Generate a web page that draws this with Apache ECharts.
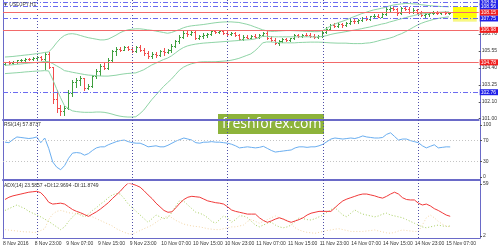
<!DOCTYPE html>
<html><head><meta charset="utf-8">
<script src="https://cdn.jsdelivr.net/npm/echarts@6/dist/echarts.min.js"></script>
<style>html,body{margin:0;padding:0;background:#fff}#c{width:500px;height:250px}</style>
</head><body><div id="c"></div>
<script>
// ---------- data ----------
const timeLabels = ["8 Nov 2016","8 Nov 23:00","9 Nov 07:00","9 Nov 15:00","9 Nov 23:00","10 Nov 07:00","10 Nov 15:00","10 Nov 23:00","11 Nov 07:00","11 Nov 15:00","11 Nov 23:00","14 Nov 07:00","14 Nov 15:00","14 Nov 23:00","15 Nov 07:00"];
const opens = [104.70,104.78,104.72,104.80,104.92,104.96,105.00,104.98,105.08,105.12,105.00,105.35,104.45,102.30,101.70,101.50,101.70,102.70,103.45,103.60,103.70,103.05,103.15,103.85,104.20,104.55,104.40,104.95,105.55,105.70,105.65,105.80,105.70,105.55,105.85,105.60,105.40,105.20,105.35,105.25,105.55,105.45,105.60,105.90,106.20,106.50,106.80,106.70,106.85,106.45,106.55,106.62,106.72,106.88,106.85,106.92,106.78,106.70,106.75,106.62,106.38,106.52,106.45,106.55,106.50,106.65,106.78,106.45,106.30,106.10,106.25,106.35,106.28,106.40,106.62,106.58,106.65,106.60,106.55,106.50,106.58,106.85,107.05,107.30,107.25,107.35,107.30,107.42,107.60,107.55,107.65,107.80,107.70,107.90,107.95,107.88,108.02,108.40,108.45,108.38,108.10,108.48,108.40,108.20,108.35,108.15,108.00,108.08,108.12,108.15,108.10,108.18,108.12];
const highs = [104.82,104.86,104.85,104.95,105.02,105.05,105.10,105.12,105.18,105.20,105.45,105.48,104.50,102.90,101.90,101.80,102.90,103.60,103.75,103.85,103.75,103.30,103.95,104.30,104.65,104.75,105.05,105.65,105.80,105.85,105.88,105.90,105.80,105.90,105.95,105.75,105.55,105.45,105.50,105.62,105.75,105.70,106.00,106.30,106.60,106.90,106.95,106.92,106.95,106.65,106.75,106.80,106.95,106.98,106.98,106.98,106.90,106.85,106.82,106.70,106.60,106.60,106.62,106.68,106.72,106.85,106.90,106.55,106.40,106.30,106.40,106.45,106.45,106.70,106.72,106.70,106.75,106.80,106.70,106.62,106.95,107.15,107.40,107.45,107.42,107.45,107.50,107.70,107.75,107.72,107.88,107.92,107.95,108.08,108.05,108.10,108.50,108.52,108.55,108.46,108.55,108.62,108.50,108.45,108.42,108.28,108.18,108.20,108.25,108.28,108.22,108.25,108.20];
const lows = [104.62,104.68,104.66,104.76,104.85,104.90,104.94,104.95,105.02,104.95,104.30,104.40,102.05,101.42,101.22,101.19,101.60,102.50,103.10,103.25,102.91,103.00,103.10,103.75,103.95,104.35,104.35,104.85,105.30,105.55,105.60,105.62,105.50,105.50,105.55,105.30,105.10,105.10,105.15,105.18,105.30,105.40,105.50,105.85,106.10,106.40,106.55,106.60,106.35,106.35,106.45,106.50,106.65,106.78,106.78,106.72,106.65,106.60,106.55,106.30,106.30,106.40,106.38,106.45,106.42,106.55,106.35,106.20,106.00,105.98,106.15,106.20,106.22,106.35,106.50,106.50,106.55,106.50,106.45,106.42,106.52,106.80,107.00,107.15,107.18,107.20,107.22,107.35,107.45,107.45,107.58,107.62,107.65,107.80,107.82,107.85,107.98,108.25,108.30,108.00,108.05,108.30,108.15,108.12,108.10,107.90,107.85,107.95,108.02,108.05,108.02,108.08,108.08];
const closes = [104.78,104.72,104.80,104.92,104.96,105.00,104.98,105.08,105.12,105.00,105.35,104.50,102.30,101.70,101.50,101.70,102.70,103.45,103.60,103.70,103.05,103.15,103.85,104.20,104.55,104.40,104.95,105.55,105.70,105.65,105.80,105.70,105.55,105.85,105.60,105.40,105.20,105.35,105.25,105.55,105.45,105.60,105.90,106.20,106.50,106.80,106.70,106.85,106.45,106.55,106.62,106.72,106.88,106.85,106.92,106.78,106.70,106.75,106.62,106.38,106.52,106.45,106.55,106.50,106.65,106.78,106.45,106.30,106.10,106.25,106.35,106.28,106.40,106.62,106.58,106.65,106.60,106.55,106.50,106.58,106.85,107.05,107.30,107.25,107.35,107.30,107.42,107.60,107.55,107.65,107.80,107.70,107.90,107.95,107.88,108.02,108.40,108.45,108.38,108.10,108.48,108.40,108.20,108.35,108.15,108.00,108.08,108.12,108.15,108.10,108.18,108.12,108.15];
const bbUpper = [105.14,105.16,105.18,105.21,105.24,105.27,105.30,105.33,105.37,105.40,105.45,105.48,105.75,106.10,106.40,106.60,106.70,106.72,106.68,106.60,106.52,106.45,106.40,106.35,106.30,106.30,106.35,106.48,106.62,106.78,106.90,106.98,107.02,107.05,107.05,107.02,106.98,106.95,106.90,106.85,106.80,106.75,106.80,106.90,107.00,107.12,107.20,107.25,107.28,107.31,107.34,107.38,107.42,107.46,107.49,107.51,107.52,107.52,107.50,107.48,107.42,107.36,107.28,107.18,107.08,106.98,106.92,106.88,106.88,106.90,106.92,106.93,106.93,106.92,106.91,106.90,106.88,106.87,106.86,106.86,106.92,107.05,107.22,107.35,107.46,107.55,107.64,107.76,107.87,107.97,108.08,108.16,108.25,108.33,108.38,108.44,108.50,108.60,108.66,108.70,108.74,108.76,108.76,108.74,108.72,108.68,108.65,108.62,108.60,108.58,108.56,108.55,108.54];
const bbMiddle = [104.58,104.60,104.62,104.65,104.67,104.70,104.73,104.75,104.78,104.80,104.84,104.84,104.70,104.55,104.40,104.22,104.17,104.11,104.06,104.01,103.96,103.92,103.90,103.88,103.86,103.85,103.85,103.88,103.91,103.96,104.00,104.03,104.05,104.07,104.17,104.28,104.44,104.60,104.72,104.85,104.97,105.07,105.22,105.42,105.62,105.78,105.89,105.96,106.01,106.05,106.08,106.10,106.12,106.14,106.16,106.18,106.20,106.22,106.24,106.26,106.29,106.30,106.32,106.36,106.44,106.54,106.54,106.52,106.51,106.51,106.51,106.51,106.51,106.51,106.51,106.51,106.51,106.51,106.50,106.50,106.53,106.58,106.66,106.72,106.77,106.81,106.86,106.91,106.96,107.01,107.06,107.12,107.17,107.24,107.30,107.37,107.42,107.51,107.58,107.66,107.73,107.80,107.88,107.94,108.01,108.05,108.08,108.11,108.14,108.16,108.18,108.19,108.20];
const bbLower = [104.02,104.04,104.06,104.08,104.10,104.13,104.15,104.17,104.19,104.20,104.22,104.20,103.65,103.00,102.40,101.85,101.65,101.50,101.45,101.42,101.40,101.40,101.40,101.42,101.42,101.40,101.35,101.28,101.20,101.14,101.10,101.08,101.08,101.10,101.30,101.55,101.90,102.25,102.55,102.85,103.15,103.40,103.65,103.95,104.25,104.45,104.58,104.68,104.75,104.80,104.82,104.82,104.82,104.82,104.84,104.86,104.88,104.92,104.98,105.05,105.15,105.25,105.35,105.55,105.80,106.10,106.16,106.16,106.14,106.12,106.10,106.10,106.10,106.10,106.12,106.13,106.14,106.15,106.15,106.15,106.14,106.12,106.10,106.09,106.08,106.08,106.08,106.06,106.05,106.05,106.05,106.08,106.10,106.15,106.22,106.30,106.35,106.42,106.50,106.62,106.72,106.85,107.00,107.15,107.30,107.42,107.52,107.60,107.68,107.74,107.79,107.83,107.86];
const rsi = [67,66,72,77,76,75,74,75,77,66,75,55,29,19,14,22,36,46,47,46,42,45,51,56,58,58,62,65,68,70,71,68,66,65,65,62,58,59,60,58,58,61,65,69,72,75,73,71,66,65,67,67,68,67,67,66,65,63,60,56,57,58,57,56,57,59,55,51,48,49,50,51,52,56,58,58,57,58,58,60,63,68,73,75,74,73,74,75,74,76,79,77,76,75,75,76,82,85,78,71,73,73,70,68,66,60,56,59,62,56,57,58,57.87];
const adx = [42,44.5,46,47,48,49,50,50.5,51,49.5,45,39,37,37.5,38,37,34,31,29,27.5,25.5,23.5,26,28.5,31.5,35,38.5,43,47,51,56,60,59,57.5,55.5,51.5,47,43,38,34,30,28,28.5,33,38,42,44.5,45.5,45,44.5,42.5,40.5,39.5,38.5,38,37,34,30.5,29,28,27,26,26,26,22,19,17,18.5,20.5,22,20.5,18.5,17,18.5,20,22,25,27,28,29,29,29,29,33,37,40.5,42.5,44,45.5,47,48,48,47,46,44.5,43.5,45.5,48,50,48,44,42,41.5,41.5,38,36,37,35,32,30,27.5,25,23.59];
const plusDI = [30,32,34,36,34,32,29,27,25,23,20.5,18,15,12,9,12,18,23,27,25,23,26,30,33,37,40,44,47,48.5,48,43,37,33,29,25,21,17,21,25,23,21,22,28,35,41,40,36,32,28,27,25,22,18,16,20,24,22,17,20,24,24,22,18,14,12,14,16,17,14,12,11,12,14,18,22,21,20,19.5,21,23,25,28,31,33,29,25,23,27,30.5,28,26,25,24,23,24,26,27,25,24,23,22,20,18,16,14,12,11,12,13,14,13,12.5,12.97];
const minusDI = [9,8.5,8,7.5,7,6.5,6.5,6,6,8,10,20,26,29,30,29,27.5,27,26.5,26,25.5,24.5,23,21,19,17,15,13,10,8,6,4.5,4,6,8,10,12,14,17,20,22,24,22,19,17,15,14,13,12.5,12,11,10,9.5,9,9,10,11,12,12,13,14,18,20,18,16,18,20,22,24,22,21,19,15,11,8.6,7,6,5.5,5,6,7,8,8.6,9.5,10,9,8,7,7,7,7,7.5,8,8.6,7.5,6.5,5.5,5,6,7.5,8.6,8,7.5,7,7,14,22,25,22,18,15,13,11.87];
const blueLevels = [108.84, 108.56, 107.75, 102.76];
const redLevels = [108.15, 106.98, 104.78];
const yellowZone = [108.53, 107.52];
const priceTicks = [101.00, 102.10, 103.25, 104.40, 105.55, 106.70];
const rsiTicks = [0, 30, 70, 100];
const rsiLevels = [70, 30];
const adxTicks = [2, 59];
const separatorIdx = [8, 32, 56, 80, 104];
const SLOTS = 120;

// ---------- styles ----------
const FONT = 'Liberation Sans';
const FRAME = '#6a6ac8';
const BULL = '#3f9f3f', BEAR = '#f24c4c', DOJI = '#333333';
const BB = '#8fd4a6';
const cats = Array.from({length: SLOTS}, (_, i) => String(i));
const bars = opens.map((o, i) => [i, o, highs[i], lows[i], closes[i]]);

function renderBar(params, api) {
  const i = api.value(0), o = api.value(1), h = api.value(2), l = api.value(3), c = api.value(4);
  const pH = api.coord([i, h]), pL = api.coord([i, l]), pO = api.coord([i, o]), pC = api.coord([i, c]);
  const x0 = Math.round(pH[0]);
  const col = c > o ? BULL : (c < o ? BEAR : DOJI);
  const st = {stroke: col, lineWidth: 1};
  const yo = Math.round(pO[1]) + 0.5, yc = Math.round(pC[1]) + 0.5;
  return {type: 'group', children: [
    {type: 'line', shape: {x1: x0 + 0.5, y1: Math.round(pH[1]), x2: x0 + 0.5, y2: Math.round(pL[1]) + 1}, style: st},
    {type: 'line', shape: {x1: x0 - 1, y1: yo, x2: x0, y2: yo}, style: st},
    {type: 'line', shape: {x1: x0 + 1, y1: yc, x2: x0 + 2, y2: yc}, style: st}
  ]};
}

function hiddenX(gi, extra) {
  return Object.assign({type: 'category', gridIndex: gi, data: cats, boundaryGap: true,
    axisLine: {show: false}, axisTick: {show: false}, axisLabel: {show: false}, splitLine: {show: false}}, extra || {});
}
function rightY(gi, min, max, ticks, fmt) {
  return {type: 'value', gridIndex: gi, position: 'right', min: min, max: max, scale: true,
    axisLine: {show: false}, splitLine: {show: false},
    axisTick: {show: true, inside: false, length: 2, customValues: ticks, lineStyle: {color: '#555'}},
    axisLabel: {show: true, customValues: ticks, formatter: fmt, fontSize: 5, fontFamily: FONT, color: '#333', margin: 3}};
}

const levelLines = [
  ...blueLevels.map(v => ({yAxis: v, lineStyle: {color: '#6b6bf0', type: [5, 2, 1, 2], width: 1}, label: {backgroundColor: '#2020e8'}})),
  ...redLevels.map(v => ({yAxis: v, lineStyle: {color: '#f26a6a', type: 'solid', width: 1}, label: {backgroundColor: '#f01e1e'}}))
];

const option = {
  animation: false,
  backgroundColor: '#ffffff',
  grid: [
    {left: 3, right: 20, top: 0, height: 120},
    {left: 3, right: 20, top: 125, height: 52},
    {left: 3, right: 20, top: 184, height: 52},
    {left: 3, right: 20, top: 0, height: 238},
    {left: -1, right: 24, top: 184, height: 54}
  ],
  xAxis: [
    hiddenX(0, {axisLine: {show: true, onZero: false, lineStyle: {color: FRAME, width: 2}}}),
    hiddenX(1, {axisLine: {show: true, onZero: false, lineStyle: {color: FRAME, width: 2}}, offset: 3}),
    hiddenX(2, {axisLine: {show: true, onZero: false, lineStyle: {color: FRAME, width: 1}}, offset: 2}),
    hiddenX(3),
    hiddenX(4, {axisLabel: {show: true, interval: (idx) => idx % 8 === 0 && idx / 8 < timeLabels.length,
      formatter: (val, idx) => timeLabels[Number(val) / 8], align: 'left', fontSize: 5, fontFamily: FONT, color: '#333', margin: 3}})
  ],
  yAxis: [
    rightY(0, 100.88, 109.00, priceTicks, v => v.toFixed(2)),
    rightY(1, 0, 100, rsiTicks, v => String(v)),
    rightY(2, 2, 59, adxTicks, v => String(v)),
    {type: 'value', gridIndex: 3, position: 'right', min: 0, max: 1, axisLine: {show: true, lineStyle: {color: FRAME, width: 1}},
      axisTick: {show: false}, axisLabel: {show: false}, splitLine: {show: false}},
    {type: 'value', gridIndex: 3, position: 'left', min: 0, max: 1, axisLine: {show: true, lineStyle: {color: FRAME, width: 1}},
      axisTick: {show: false}, axisLabel: {show: false}, splitLine: {show: false}},
    {type: 'value', gridIndex: 4, show: false, min: 0, max: 1}
  ],
  series: [
    {type: 'line', name: 'sep', xAxisIndex: 3, yAxisIndex: 3, data: [], silent: true,
      markLine: {silent: true, symbol: ['none', 'none'], label: {show: false},
        lineStyle: {color: '#5050a8', type: [1, 2], width: 1},
        data: separatorIdx.map(i => ({xAxis: i}))}},
    {type: 'line', name: 'bbU', xAxisIndex: 0, yAxisIndex: 0, data: bbUpper, symbol: 'none', lineStyle: {color: BB, width: 1}, silent: true},
    {type: 'line', name: 'bbL', xAxisIndex: 0, yAxisIndex: 0, data: bbLower, symbol: 'none', lineStyle: {color: BB, width: 1}, silent: true},
    {type: 'line', name: 'bbM', xAxisIndex: 0, yAxisIndex: 0, data: bbMiddle, symbol: 'none', lineStyle: {color: BB, width: 1}, silent: true,
      markArea: {silent: true, itemStyle: {color: {type: 'linear', x: 0, y: 0, x2: 0, y2: 1, colorStops: [
          {offset: 0, color: '#ffff10'}, {offset: 0.65, color: '#ffff00'}, {offset: 1, color: '#f6f6b0'}]}},
        data: [[{xAxis: closes.length, yAxis: yellowZone[0]}, {xAxis: SLOTS - 1, yAxis: yellowZone[1]}]]},
      markLine: {silent: true, symbol: ['none', 'none'], data: levelLines,
        label: {show: true, position: 'end', formatter: p => Number(p.value).toFixed(2), color: '#fff', fontSize: 5,
          fontFamily: FONT, padding: [0, 2, 0, 1], lineHeight: 6, distance: 1}}},
    {type: 'custom', name: 'price', xAxisIndex: 0, yAxisIndex: 0, data: bars, renderItem: renderBar,
      encode: {x: 0, y: [1, 2, 3, 4]}, clip: true, silent: true},
    {type: 'line', name: 'rsi', xAxisIndex: 1, yAxisIndex: 1, data: rsi, symbol: 'none', lineStyle: {color: '#6aaef0', width: 1}, silent: true,
      markLine: {silent: true, symbol: ['none', 'none'], label: {show: false}, lineStyle: {color: '#c4c4c4', type: [1, 2], width: 1},
        data: rsiLevels.map(v => ({yAxis: v}))}},
    {type: 'line', name: 'plusDI', xAxisIndex: 2, yAxisIndex: 2, data: plusDI, symbol: 'none', lineStyle: {color: '#a8d060', width: 1, type: [1, 2]}, silent: true},
    {type: 'line', name: 'minusDI', xAxisIndex: 2, yAxisIndex: 2, data: minusDI, symbol: 'none', lineStyle: {color: '#f2d6a8', width: 1, type: [1, 2]}, silent: true},
    {type: 'line', name: 'adx', xAxisIndex: 2, yAxisIndex: 2, data: adx, symbol: 'none', lineStyle: {color: '#f03a3a', width: 1}, silent: true}
  ],
  graphic: [
    {type: 'text', left: 3, top: 2, z: 10, style: {text: '▼ USDJPY,H1', fill: '#444', fontSize: 5, fontFamily: FONT}},
    {type: 'text', left: 4, top: 122, z: 10, style: {text: 'RSI(14) 57.8737', fill: '#333', fontSize: 5, fontFamily: FONT}},
    {type: 'text', left: 4, top: 183, z: 10, style: {text: 'ADX(14) 23.5857 +DI:12.9694 -DI:11.8749', fill: '#333', fontSize: 5, fontFamily: FONT}},
    {type: 'group', left: 218, top: 114, z: 20, children: [
      {type: 'rect', shape: {x: 0, y: 0, width: 106, height: 20}, style: {fill: '#8db33a'}},
      {type: 'text', x: 4, y: 10, style: {text: 'freshforex.com', fill: '#ffffff', fontSize: 14, fontFamily: 'Open Sans', verticalAlign: 'middle'}}
    ]}
  ]
};

const chart = echarts.init(document.getElementById('c'), null, {renderer: 'canvas'});
chart.setOption(option);
</script>
</body></html>
